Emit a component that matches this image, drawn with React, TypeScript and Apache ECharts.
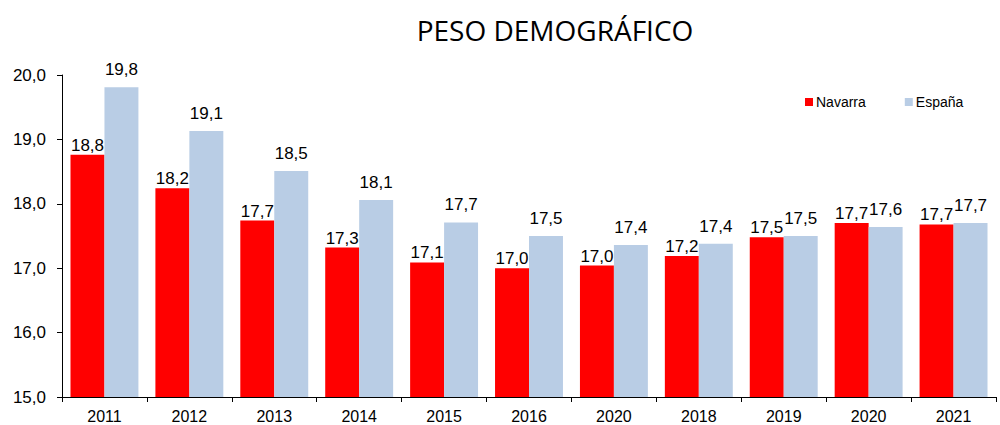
import React, { useEffect, useRef } from "react";
import * as echarts from "echarts";

const titleText = "PESO DEMOGRÁFICO";
const categories = ["2011", "2012", "2013", "2014", "2015", "2016", "2020", "2018", "2019", "2020", "2021"];
const navarra = [18.76, 18.24, 17.74, 17.32, 17.09, 17.0, 17.04, 17.19, 17.48, 17.7, 17.68];
const espana = [19.81, 19.13, 18.51, 18.06, 17.71, 17.5, 17.36, 17.38, 17.5, 17.64, 17.7];
const seriesNames = ["Navarra", "España"];
const yMin = 15;
const yMax = 20;
const yInterval = 1;

const fmt = (v: number) => v.toFixed(1).replace(".", ",");
const FONT = "'Liberation Sans', Arial, sans-serif";

export default function App() {
  const ref = useRef<HTMLDivElement>(null);
  useEffect(() => {
    if (!ref.current) return;
    const chart = echarts.init(ref.current, undefined, { renderer: "svg" });
    chart.setOption({
      animation: false,
      backgroundColor: "#ffffff",
      title: {
        text: titleText,
        left: 550,
        top: 11,
        textAlign: "center",
        textStyle: { fontFamily: "'Open Sans', sans-serif", fontSize: 28, fontWeight: "normal", color: "#000" },
      },
      legend: {
        left: 800,
        top: 90,
        itemWidth: 8,
        itemHeight: 8,
        itemGap: 39,
        icon: "rect",
        textStyle: { fontFamily: FONT, fontSize: 14, color: "#000", padding: [0, 0, 0, -2] },
        data: seriesNames,
      },
      grid: { left: 62, right: 4, top: 75, bottom: 28, containLabel: false },
      xAxis: {
        type: "category",
        data: categories,
        axisLine: { lineStyle: { color: "#000", width: 1 } },
        axisTick: { show: true, alignWithLabel: false, length: 5, lineStyle: { color: "#000" } },
        axisLabel: { fontFamily: FONT, fontSize: 16, color: "#000", margin: 11 },
      },
      yAxis: {
        type: "value",
        min: yMin,
        max: yMax,
        interval: yInterval,
        splitLine: { show: false },
        axisLine: { show: true, lineStyle: { color: "#000", width: 1 } },
        axisTick: { show: true, inside: false, length: 5, lineStyle: { color: "#000" } },
        axisLabel: { fontFamily: FONT, fontSize: 17, color: "#000", margin: 16, formatter: (v: number) => fmt(v) },
      },
      series: [
        {
          name: seriesNames[0],
          type: "bar",
          data: navarra,
          barGap: "0%",
          barCategoryGap: "20%",
          itemStyle: { color: "#FF0000" },
          label: {
            show: true,
            position: "top",
            distance: 1,
            fontFamily: FONT,
            fontSize: 17,
            color: "#000",
            formatter: (p: any) => fmt(p.value),
          },
        },
        {
          name: seriesNames[1],
          type: "bar",
          data: espana,
          barGap: "0%",
          barCategoryGap: "20%",
          itemStyle: { color: "#B9CDE5" },
          label: {
            show: true,
            position: "top",
            distance: 9,
            fontFamily: FONT,
            fontSize: 17,
            color: "#000",
            formatter: (p: any) => fmt(p.value),
          },
        },
      ],
    });
    return () => chart.dispose();
  }, []);
  return (
    <div
      ref={ref}
      style={{ position: "fixed", left: 0, top: 0, width: 1000, height: 425, background: "#fff" }}
    />
  );
}
